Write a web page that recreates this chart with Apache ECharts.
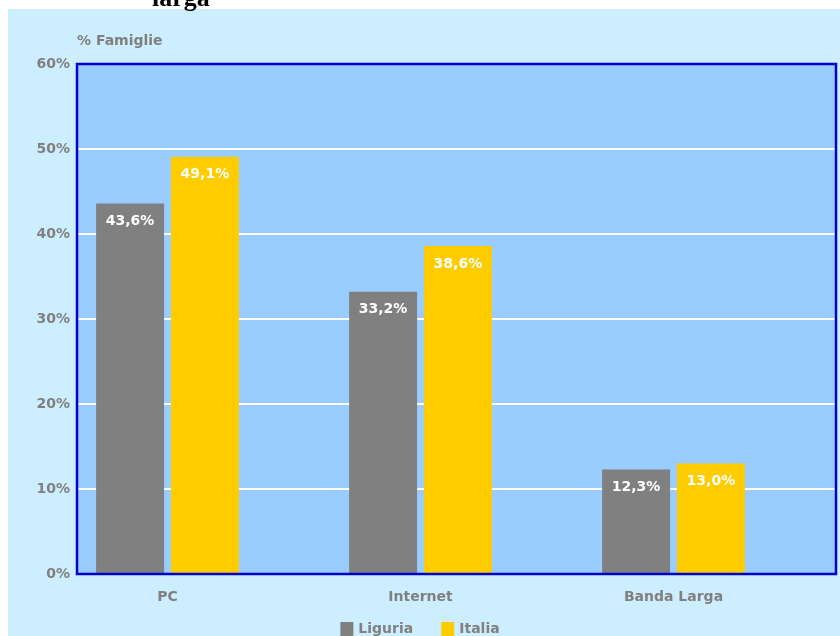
<!DOCTYPE html>
<html>
<head>
<meta charset="utf-8">
<script src="https://cdn.jsdelivr.net/npm/echarts@6/dist/echarts.min.js"></script>
<style>html,body{margin:0;padding:0;background:#fff}#c{width:840px;height:636px}</style>
</head>
<body>
<div id="c"></div>
<script>
var categories = ['PC', 'Internet', 'Banda Larga'];
var liguria = [43.6, 33.2, 12.3];
var italia = [49.1, 38.6, 13.0];
var seriesNames = ['Liguria', 'Italia'];
var yTicks = [0, 10, 20, 30, 40, 50, 60];

var chart = echarts.init(document.getElementById('c'), null, {renderer: 'canvas'});
var font = '"DejaVu Sans", Verdana, sans-serif';
var gray = '#808080';
function fmt(v) { return v.toFixed(1).replace('.', ',') + '%'; }
var lbl = {
  show: true, position: 'insideTop', distance: 11,
  color: '#ffffff', fontWeight: 'bold', fontSize: 14, fontFamily: font,
  formatter: function (p) { return fmt(p.value); }
};
chart.setOption({
  backgroundColor: '#ffffff',
  animation: false,
  graphic: [
    {type: 'rect', z: -10, shape: {x: 8, y: 9, width: 832, height: 627}, style: {fill: '#cdeeff'}},
    {type: 'text', left: 152, top: -14, style: {text: 'larga', font: 'bold 26px "Liberation Serif", serif', fill: '#000'}},
    {type: 'text', left: 77, top: 34, style: {text: '% Famiglie', font: 'bold 14px ' + font, fill: gray}},
    {type: 'rect', z: 100, shape: {x: 77, y: 64, width: 759, height: 510}, style: {fill: null, stroke: '#0000cc', lineWidth: 2.5}}
  ],
  legend: {
    data: seriesNames, left: 'center', top: 617, icon: 'rect', itemWidth: 13, itemHeight: 14, itemGap: 28,
    textStyle: {color: gray, fontWeight: 'bold', fontSize: 14, fontFamily: font}
  },
  grid: [
    {left: 77, top: 64, width: 759, height: 510, show: true, backgroundColor: '#99ccff', borderWidth: 0, z: 0},
    {left: 41, top: 64, width: 759, height: 510}
  ],
  xAxis: [
    {type: 'category', gridIndex: 0, data: categories, show: false},
    {type: 'category', gridIndex: 1, data: categories,
      axisLine: {show: false}, axisTick: {show: false},
      axisLabel: {margin: 16, color: gray, fontWeight: 'bold', fontSize: 14, fontFamily: font}}
  ],
  yAxis: [
    {type: 'value', gridIndex: 0, min: yTicks[0], max: yTicks[yTicks.length - 1], interval: 10,
      axisLine: {show: false}, axisTick: {show: false},
      axisLabel: {formatter: '{value}%', margin: 7, color: gray, fontWeight: 'bold', fontSize: 14, fontFamily: font},
      splitLine: {lineStyle: {color: '#ffffff', width: 2}}},
    {type: 'value', gridIndex: 1, min: yTicks[0], max: yTicks[yTicks.length - 1], show: false, splitLine: {show: false}}
  ],
  series: [
    {name: seriesNames[0], type: 'bar', xAxisIndex: 1, yAxisIndex: 1, data: liguria, barWidth: 68, barGap: '10%',
      itemStyle: {color: '#808080'}, label: lbl, z: 3},
    {name: seriesNames[1], type: 'bar', xAxisIndex: 1, yAxisIndex: 1, data: italia, barWidth: 68, barGap: '10%',
      itemStyle: {color: '#ffcc00'}, label: lbl, z: 3}
  ]
});
</script>
</body>
</html>
